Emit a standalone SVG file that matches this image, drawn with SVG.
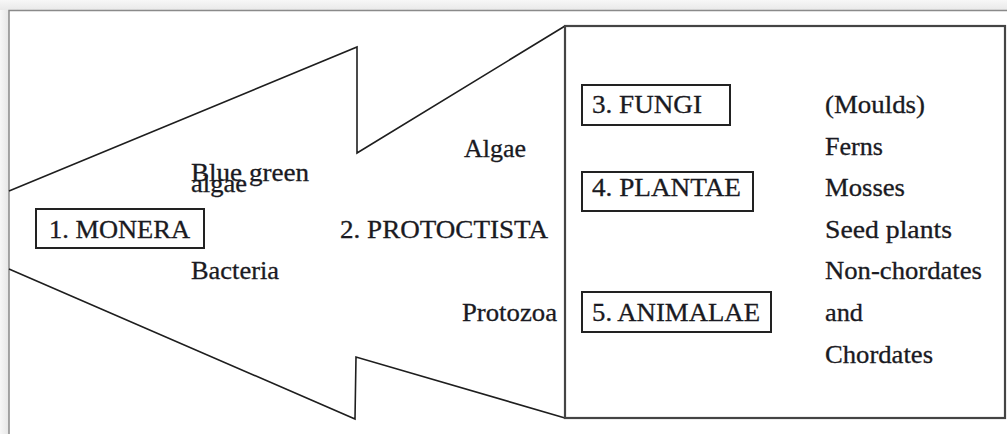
<svg xmlns="http://www.w3.org/2000/svg" width="1007" height="434" viewBox="0 0 1007 434">
<defs>
<linearGradient id="topShade" x1="0" y1="0" x2="0" y2="1">
<stop offset="0" stop-color="#f7f7f7"/>
<stop offset="1" stop-color="#e9e9e9"/>
</linearGradient>
<linearGradient id="leftShade" x1="0" y1="0" x2="1" y2="0">
<stop offset="0" stop-color="#f7f7f7"/>
<stop offset="1" stop-color="#e6e6e6"/>
</linearGradient>
</defs>
<style>
.t{font-family:"Liberation Serif","Times New Roman",serif;font-size:25px;fill:#1a1a22;stroke:#1a1a22;stroke-width:0.3}
.box{fill:#fff;stroke:#222;stroke-width:2}
.arrow{fill:none;stroke:#1e1e1e;stroke-width:1.6;stroke-linejoin:miter}
.frame{fill:none;stroke:#8a8a8a;stroke-width:1.5}
</style>
<rect x="0" y="0" width="1007" height="434" fill="#f2f2f2"/>
<rect x="0" y="0" width="1007" height="10" fill="url(#topShade)"/>
<rect x="0" y="10" width="9" height="424" fill="url(#leftShade)"/>
<rect x="9" y="10" width="998" height="424" fill="#fff"/>
<path class="frame" d="M9,434 V10.5 H1007"/>

<g id="connectors">
<path class="arrow" d="M9,191 L357,47 L357,153 L565,26"/>
<path class="arrow" d="M9,269 L355,419 L356,357 L565,418"/>
</g>

<g id="kingdoms-panel">
<rect x="565" y="26" width="440" height="392" fill="none" stroke="#444" stroke-width="2.2"/>
</g>

<g id="monera">
<rect class="box" x="36" y="209" width="168" height="39"/>
<text class="t" x="49" y="238" textLength="141" lengthAdjust="spacingAndGlyphs">1. MONERA</text>
</g>
<g id="monera-members">
<text class="t" x="191" y="181" textLength="118" lengthAdjust="spacingAndGlyphs">Blue green</text>
<text class="t" x="191" y="192" textLength="56" lengthAdjust="spacingAndGlyphs">algae</text>
<text class="t" x="191" y="279" textLength="88" lengthAdjust="spacingAndGlyphs">Bacteria</text>
</g>

<g id="protoctista">
<text class="t" x="340" y="238" textLength="208" lengthAdjust="spacingAndGlyphs">2. PROTOCTISTA</text>
</g>
<g id="protoctista-members">
<text class="t" x="464" y="157" textLength="62" lengthAdjust="spacingAndGlyphs">Algae</text>
<text class="t" x="462" y="321" textLength="95" lengthAdjust="spacingAndGlyphs">Protozoa</text>
</g>

<g id="fungi">
<rect class="box" x="582" y="85" width="148" height="40"/>
<text class="t" x="592" y="113" textLength="110" lengthAdjust="spacingAndGlyphs">3. FUNGI</text>
</g>
<g id="plantae">
<rect class="box" x="582" y="172" width="171" height="39"/>
<text class="t" x="592" y="196" textLength="149" lengthAdjust="spacingAndGlyphs">4. PLANTAE</text>
</g>
<g id="animalae">
<rect class="box" x="582" y="292" width="189" height="40"/>
<text class="t" x="592" y="321" textLength="168" lengthAdjust="spacingAndGlyphs">5. ANIMALAE</text>
</g>

<g id="examples">
<text class="t" x="825" y="113" textLength="100" lengthAdjust="spacingAndGlyphs">(Moulds)</text>
<text class="t" x="825" y="155" textLength="58" lengthAdjust="spacingAndGlyphs">Ferns</text>
<text class="t" x="825" y="196" textLength="80" lengthAdjust="spacingAndGlyphs">Mosses</text>
<text class="t" x="825" y="238" textLength="127" lengthAdjust="spacingAndGlyphs">Seed plants</text>
<text class="t" x="825" y="279" textLength="157" lengthAdjust="spacingAndGlyphs">Non-chordates</text>
<text class="t" x="825" y="321" textLength="38" lengthAdjust="spacingAndGlyphs">and</text>
<text class="t" x="825" y="363" textLength="108" lengthAdjust="spacingAndGlyphs">Chordates</text>
</g>
</svg>
